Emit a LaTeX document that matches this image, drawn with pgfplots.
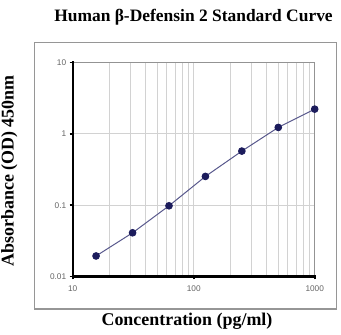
\documentclass[border=0pt]{standalone}
\usepackage{pgfplots}
\pgfplotsset{compat=1.18}
\usepackage{fontspec}
\setmainfont{Liberation Serif}
\newfontfamily\ticksans{Liberation Sans}

\definecolor{curveline}{RGB}{88,88,140}
\definecolor{curvemark}{RGB}{28,28,92}
\definecolor{gridgray}{RGB}{210,210,210}
\definecolor{framegray}{RGB}{150,150,150}
\definecolor{ticktext}{RGB}{100,100,100}

\begin{document}
\begin{tikzpicture}[x=1bp,y=1bp]
\useasboundingbox (0,0) rectangle (341,335);

% outer frame of the chart
\draw[framegray, line width=1.2bp] (34.7,26) rectangle (336.5,292.3);

\begin{axis}[
  at={(72.7bp,58.5bp)}, anchor=south west,
  scale only axis, width=242bp, height=214bp,
  xmode=log, ymode=log,
  xmin=10, xmax=1000, ymin=0.01, ymax=10,
  xtick={10,100,1000}, xticklabels={10,100,1000},
  ytick={0.01,0.1,1,10}, yticklabels={0.01,0.1,1,10},
  xminorgrids=true, xmajorgrids=true, ymajorgrids=true, yminorgrids=false,
  grid style={gridgray, line width=0.8bp},
  minor grid style={gridgray, line width=0.8bp},
  axis line style={draw=gridgray!70!black, line width=0.8bp},
  tick align=outside,
  major tick length=3bp, minor tick length=0pt,
  tick style={black, line width=1.6bp},
  xtick pos=bottom, ytick pos=left,
  /pgf/number format/assume math mode=true,
  tick label style={font=\ticksans\fontsize{8.3}{10}\selectfont, text=ticktext},
  xticklabel style={yshift=-2.5bp},
  clip=false,
]
\addplot[curveline, line width=1bp, mark=*, mark size=3.3bp,
  mark options={fill=curvemark, draw=curvemark}]
  table {
  x y
  15.6 0.0194
  31.25 0.041
  62.5 0.098
  125 0.253
  250 0.573
  500 1.23
  1000 2.22
};
\end{axis}

% heavy left and bottom axis lines
\draw[black, line width=2.4bp, line cap=rect] (72.7,272.7) -- (72.7,58.5) -- (314.7,58.5);

\node[anchor=base, font=\bfseries\fontsize{17.5}{20}\selectfont] at (193.5,314) {Human β-Defensin 2 Standard Curve};
\node[anchor=base, font=\bfseries\fontsize{18}{21}\selectfont] at (187,9.3) {Concentration (pg/ml)};
\node[anchor=base, rotate=90, font=\bfseries\fontsize{18}{21}\selectfont] at (13.5,164) {Absorbance (OD) 450nm};
\end{tikzpicture}
\end{document}
